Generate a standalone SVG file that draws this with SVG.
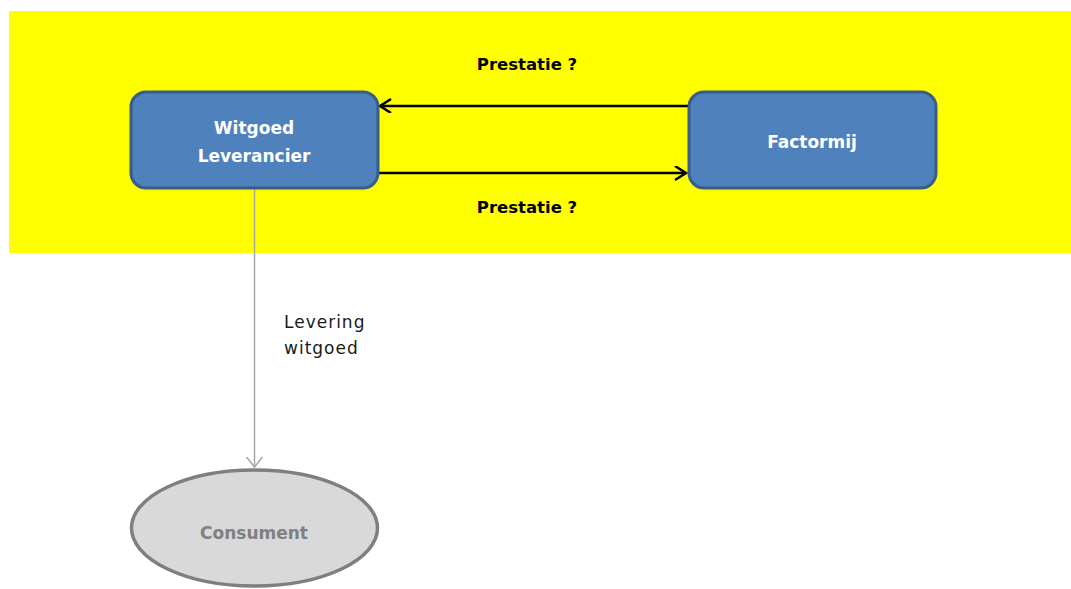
<svg xmlns="http://www.w3.org/2000/svg" width="1071" height="589" viewBox="0 0 1071 589">
<style>
.box{fill:#4f81bd;stroke:#385d8a;stroke-width:3}
.wt{font-family:"DejaVu Sans",sans-serif;font-weight:bold;font-size:17px;fill:#ffffff;text-anchor:middle}
.lbl{font-family:"DejaVu Sans",sans-serif;font-weight:bold;font-size:16.5px;fill:#000000;text-anchor:middle}
.conn{stroke:#000;stroke-width:2.5;fill:none}
</style>
<defs>
<marker id="ah" markerWidth="20" markerHeight="20" refX="12" refY="7" orient="auto" markerUnits="userSpaceOnUse">
<path d="M1,0 L12,7 L1,14" fill="none" stroke="#000" stroke-width="2.5"/>
</marker>
<marker id="ahg" markerWidth="24" markerHeight="24" refX="10" refY="10" orient="auto" markerUnits="userSpaceOnUse">
<path d="M0,2 L10,10 L0,18" fill="none" stroke="#a6a6a6" stroke-width="1.5"/>
</marker>
</defs>
<rect x="9" y="11" width="1062" height="242" fill="#ffff00"/>
<g id="connectors">
<line class="conn" x1="688" y1="106" x2="380" y2="106" marker-end="url(#ah)"/>
<line class="conn" x1="378" y1="173" x2="686" y2="173" marker-end="url(#ah)"/>
<line x1="254.5" y1="189" x2="254.5" y2="467" stroke="#a6a6a6" stroke-width="1.5" marker-end="url(#ahg)"/>
<text class="lbl" x="527" y="70">Prestatie ?</text>
<text class="lbl" x="527" y="213">Prestatie ?</text>
<text font-family="DejaVu Sans,sans-serif" font-size="17px" letter-spacing="1" fill="#1a1a1a" x="284" y="328">Levering</text>
<text font-family="DejaVu Sans,sans-serif" font-size="17px" letter-spacing="1" fill="#1a1a1a" x="284" y="354">witgoed</text>
</g>
<g id="witgoed">
<rect class="box" x="131" y="92" width="247" height="96" rx="15"/>
<text class="wt" x="254" y="134">Witgoed</text>
<text class="wt" x="254" y="162">Leverancier</text>
</g>
<g id="factormij">
<rect class="box" x="689" y="92" width="247" height="96" rx="15"/>
<text class="wt" x="812" y="148">Factormij</text>
</g>
<g id="consument">
<ellipse cx="254.5" cy="528" rx="123" ry="58" fill="#d9d9d9" stroke="#7f7f7f" stroke-width="3.5"/>
<text x="254" y="539" font-family="DejaVu Sans,sans-serif" font-weight="bold" font-size="17px" fill="#808080" text-anchor="middle">Consument</text>
</g>
</svg>
